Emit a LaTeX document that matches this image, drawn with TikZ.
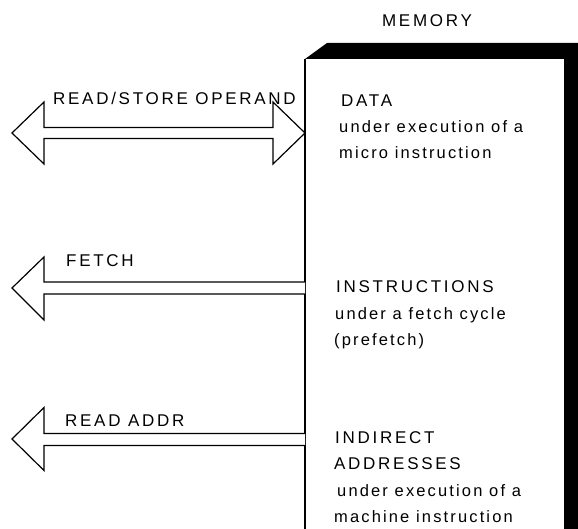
\documentclass[tikz,border=0pt]{standalone}
\usepackage{fontspec}
\setmainfont{Liberation Sans}[LetterSpace=13]
\newfontfamily\capsfont{Liberation Sans}[LetterSpace=16]
\begin{document}
\begin{tikzpicture}[x=1pt,y=-1pt,
  lbl/.style={anchor=base west,inner sep=0pt,font=\fontsize{16.5}{20}\selectfont},
  caps/.style={anchor=base west,inner sep=0pt,font=\capsfont\fontsize{17}{20}\selectfont},
  blockarrow/.style={draw=black,line width=1.2pt,fill=white,line join=miter},
]
\useasboundingbox (0,0) rectangle (578,529);
% memory box with shadow bands
\fill[black] (305,59) -- (327,43) -- (578,43) -- (578,529) -- (564,529) -- (564,59) -- cycle;
\node[draw=none,fill=white,minimum width=259pt,minimum height=470pt,anchor=north west,inner sep=0pt] (mem) at (305,59) {};
\draw[line width=1.5pt] (mem.north west) -- (mem.south west);
\node[caps,anchor=base] (memlabel) at (427,27) {MEMORY};
% arrow 1: double-headed
\draw[blockarrow] (12,133) -- (44,102) -- (44,127.5) -- (273,127.5) -- (273,102) -- (305,133)
  -- (273,164) -- (273,138.5) -- (44,138.5) -- (44,164) -- cycle;
% arrow 2: fetch
\draw[blockarrow] (305,282) -- (44,282) -- (44,257) -- (12,288) -- (44,320) -- (44,294) -- (305,294);
% arrow 3: read addr
\draw[blockarrow] (305,433.5) -- (44,433.5) -- (44,407.5) -- (12,439) -- (44,470.5) -- (44,445.5) -- (305,445.5);
% arrow labels
\node[caps] (rs) at (53,105) {READ/STORE OPERAND};
\node[caps] (fe) at (66,266.5) {FETCH};
\node[caps] (ra) at (65,426) {READ ADDR};
% memory contents
\node[caps] (d1) at (341,107) {DATA};
\node[lbl] (d2) at (339,132.5) {under execution of a};
\node[lbl] (d3) at (339,159) {micro instruction};
\node[caps] (i1) at (336,292.5) {INSTRUCTIONS};
\node[lbl] (i2) at (335,319.5) {under a fetch cycle};
\node[lbl] (i3) at (334,345.5) {(prefetch)};
\node[caps] (a1) at (335,443.5) {INDIRECT};
\node[caps] (a2) at (334,469.5) {ADDRESSES};
\node[lbl] (a3) at (337,496) {under execution of a};
\node[lbl] (a4) at (334,522.5) {machine instruction};
\end{tikzpicture}
\end{document}
